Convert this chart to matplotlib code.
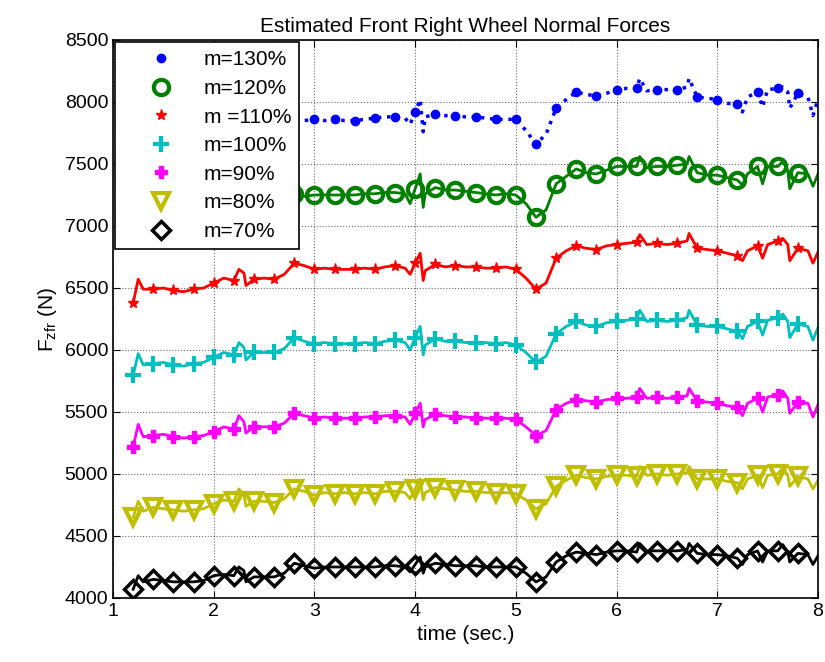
import numpy as np
import matplotlib
matplotlib.use('Agg')
import matplotlib.pyplot as plt
from matplotlib.lines import Line2D

plt.rcParams['font.family'] = ['Liberation Sans', 'DejaVu Sans']

# sample times (sec.)
t = np.linspace(1.2, 8.0, 69)

# normal force estimates (N) at 0.1 s steps
f130 = [7550, 7640, 7650, 7660, 7640, 7630, 7650, 7660, 7700, 7740, 7720, 7780, 7740, 7740, 7730, 7760, 7870, 7850,
        7860, 7850, 7860, 7850, 7850, 7860, 7870, 7880, 7880, 7870, 7920, 7880, 7900, 7890, 7890, 7880, 7880, 7870,
        7860, 7860, 7860, 7770, 7660, 7740, 7950, 8020, 8080, 8060, 8050, 8070, 8100, 8110, 8110, 8090, 8100, 8100,
        8100, 8120, 8040, 8030, 8020, 7990, 7980, 8040, 8080, 8100, 8110, 8080, 8070, 8040, 8020]
f120 = [6950, 7040, 7050, 7060, 7040, 7030, 7050, 7060, 7100, 7140, 7120, 7180, 7140, 7140, 7130, 7160, 7260, 7240,
        7250, 7250, 7250, 7250, 7250, 7260, 7260, 7270, 7270, 7260, 7300, 7260, 7310, 7290, 7290, 7280, 7270, 7260,
        7250, 7260, 7250, 7180, 7070, 7130, 7340, 7400, 7460, 7430, 7420, 7450, 7480, 7480, 7480, 7470, 7480, 7480,
        7490, 7500, 7430, 7410, 7410, 7390, 7370, 7420, 7480, 7480, 7480, 7450, 7430, 7420, 7420]
f110 = [6380, 6490, 6490, 6500, 6480, 6470, 6490, 6500, 6540, 6580, 6560, 6620, 6570, 6580, 6570, 6610, 6700, 6680,
        6650, 6660, 6650, 6650, 6650, 6660, 6650, 6670, 6680, 6660, 6700, 6640, 6690, 6670, 6680, 6670, 6670, 6660,
        6660, 6670, 6650, 6580, 6490, 6540, 6740, 6800, 6840, 6820, 6810, 6840, 6850, 6860, 6870, 6850, 6860, 6850,
        6860, 6880, 6820, 6810, 6800, 6780, 6760, 6800, 6840, 6850, 6880, 6850, 6820, 6800, 6790]
f100 = [5800, 5880, 5890, 5900, 5880, 5870, 5890, 5900, 5940, 5980, 5960, 6020, 5980, 5980, 5980, 6010, 6100, 6070,
        6050, 6060, 6050, 6050, 6050, 6060, 6050, 6070, 6080, 6060, 6100, 6040, 6090, 6070, 6070, 6060, 6060, 6060,
        6050, 6060, 6040, 5980, 5900, 5950, 6130, 6190, 6230, 6200, 6190, 6220, 6230, 6240, 6250, 6230, 6240, 6230,
        6240, 6260, 6200, 6190, 6190, 6170, 6150, 6190, 6230, 6240, 6260, 6230, 6210, 6190, 6180]
f90 = [5220, 5300, 5310, 5320, 5300, 5290, 5300, 5310, 5340, 5380, 5360, 5420, 5380, 5380, 5380, 5410, 5490, 5470,
       5450, 5460, 5450, 5450, 5450, 5460, 5460, 5470, 5470, 5460, 5490, 5440, 5480, 5470, 5460, 5460, 5450, 5450,
       5450, 5450, 5440, 5380, 5310, 5350, 5520, 5570, 5600, 5590, 5580, 5600, 5610, 5610, 5620, 5610, 5620, 5610,
       5620, 5630, 5590, 5580, 5570, 5550, 5540, 5570, 5610, 5620, 5640, 5610, 5580, 5570, 5560]
f80 = [4650, 4700, 4730, 4720, 4710, 4700, 4710, 4720, 4760, 4790, 4780, 4830, 4780, 4780, 4770, 4800, 4880, 4860,
       4830, 4850, 4840, 4850, 4840, 4850, 4840, 4860, 4860, 4850, 4880, 4850, 4890, 4880, 4870, 4860, 4860, 4850,
       4850, 4850, 4840, 4790, 4720, 4760, 4900, 4950, 4990, 4970, 4960, 4980, 4990, 4990, 4980, 4990, 5000, 4990,
       5000, 5010, 4960, 4960, 4960, 4940, 4930, 4960, 4990, 4990, 5000, 4990, 4980, 4960, 4950]
f70 = [4070, 4130, 4150, 4140, 4130, 4130, 4130, 4140, 4180, 4190, 4180, 4220, 4170, 4170, 4170, 4200, 4280, 4260,
       4240, 4250, 4250, 4250, 4250, 4250, 4250, 4260, 4260, 4250, 4270, 4250, 4280, 4270, 4260, 4260, 4260, 4250,
       4250, 4250, 4250, 4200, 4130, 4170, 4290, 4340, 4370, 4360, 4350, 4370, 4380, 4380, 4370, 4380, 4380, 4380,
       4380, 4390, 4360, 4350, 4350, 4340, 4320, 4350, 4380, 4380, 4380, 4370, 4360, 4350, 4340]

# short spikes in the estimates
t_spk = [1.25, 2.25, 2.32, 3.95, 4.05, 4.08, 6.23, 6.72, 7.25, 7.45, 7.65, 7.72, 7.95]
s130 = [7730, 7830, 7700, 7820, 8020, 7760, 8190, 8190, 7920, 7960, 8120, 7950, 7890]
s120 = [7130, 7230, 7100, 7180, 7420, 7150, 7560, 7560, 7330, 7340, 7520, 7300, 7320]
s110 = [6570, 6650, 6520, 6610, 6780, 6560, 6930, 6940, 6720, 6740, 6900, 6720, 6700]
s100 = [5970, 6060, 5920, 6000, 6190, 5960, 6320, 6320, 6090, 6120, 6290, 6100, 6080]
s90 = [5400, 5470, 5330, 5400, 5570, 5380, 5690, 5690, 5470, 5500, 5670, 5490, 5460]
s80 = [4780, 4880, 4740, 4800, 4960, 4790, 5060, 5060, 4880, 4890, 5050, 4900, 4880]
s70 = [4180, 4250, 4130, 4210, 4330, 4200, 4440, 4440, 4270, 4290, 4430, 4290, 4270]

labels = ['m=130%', 'm=120%', 'm =110%', 'm=100%', 'm=90%', 'm=80%', 'm=70%']

fig = plt.figure(figsize=(8.25, 6.62), dpi=100)
ax = fig.add_axes([0.137, 0.0967, 0.8545, 0.8429])

styles = [
    (f130, s130, ':', '#0000FF', dict(marker='.', ms=12)),
    (f120, s120, '-', '#008000', dict(marker='o', ms=11, mew=3, mfc='none')),
    (f110, s110, '-', '#FF0000', dict(marker='*', ms=8)),
    (f100, s100, '-', '#00BFBF', dict(marker='+', ms=11, mew=3)),
    (f90, s90, '-', '#FF00FF', dict(marker='P', ms=9)),
    (f80, s80, '-', '#BFBF00', dict(marker='v', ms=12, mew=3, mfc='none')),
    (f70, s70, '-', '#000000', dict(marker='D', ms=9, mew=2.5, mfc='none')),
]

hnd = []
for f, s, ls, col, mk in styles:
    tt = np.concatenate([t, t_spk])
    ff = np.concatenate([f, s])
    o = np.argsort(tt)
    ax.plot(tt[o], ff[o], ls, color=col, lw=2.5 if ls == ':' else 2)
    ax.plot(t[:68:2], f[:68:2], ls='none', color=col, **mk)
    hnd.append(Line2D([], [], ls='none', color=col, **mk))

# legend shows markers only
leg = ax.legend(hnd, labels, loc='upper left', fontsize=15, fancybox=False, framealpha=1,
                edgecolor='k', borderaxespad=0.1, handlelength=3.6, handletextpad=0.25,
                labelspacing=0.46, borderpad=0.4)
leg.get_frame().set_linewidth(1.2)

ax.set_xlim(1, 8)
ax.set_ylim(4000, 8500)
ax.set_xticks(range(1, 9))
ax.set_yticks(range(4000, 8501, 500))
ax.tick_params(direction='in', top=True, right=True, labelsize=14, length=5)
ax.grid(True, ls=':', color='k', lw=0.8, alpha=0.6)
for sp in ax.spines.values():
    sp.set_linewidth(1.2)

ax.set_title('Estimated Front Right Wheel Normal Forces', fontsize=15)
ax.set_xlabel('time (sec.)', fontsize=15)
ax.set_ylabel('F$_{\\mathregular{zfr}}$ (N)', fontsize=15)

fig.savefig('out.png', dpi=100)
